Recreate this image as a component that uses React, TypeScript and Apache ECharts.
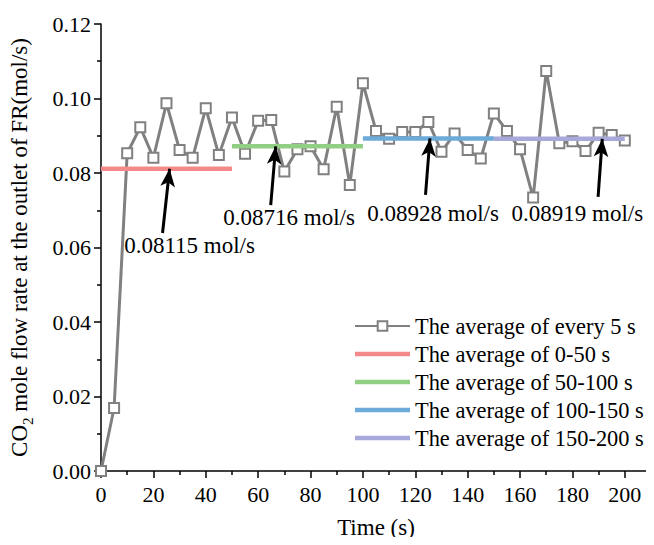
import React, { useEffect, useRef } from "react";
import * as echarts from "echarts";

const times = [0, 5, 10, 15, 20, 25, 30, 35, 40, 45, 50, 55, 60, 65, 70, 75, 80, 85, 90, 95, 100, 105, 110, 115, 120, 125, 130, 135, 140, 145, 150, 155, 160, 165, 170, 175, 180, 185, 190, 195, 200];
const every5s = [0, 0.0169, 0.0853, 0.0923, 0.0841, 0.0987, 0.0862, 0.0841, 0.0974, 0.0848, 0.0949, 0.0852, 0.094, 0.0942, 0.0804, 0.0864, 0.0872, 0.081, 0.0978, 0.0768, 0.1041, 0.0913, 0.0892, 0.091, 0.091, 0.0937, 0.0857, 0.0906, 0.0862, 0.0839, 0.096, 0.0913, 0.0864, 0.0734, 0.1074, 0.088, 0.0885, 0.0859, 0.0908, 0.0902, 0.0887];

const avgNames = ["The average of 0-50 s", "The average of 50-100 s", "The average of 100-150 s", "The average of 150-200 s"];
const avgStarts = [0, 50, 100, 150];
const avgEnds = [50, 100, 150, 200];
const avgValues = [0.08115, 0.08716, 0.08928, 0.08919];
const avgColors = ["#F4898A", "#91CF84", "#6BAAD9", "#A7A9DA"];

const annotationTexts = ["0.08115 mol/s", "0.08716 mol/s", "0.08928 mol/s", "0.08919 mol/s"];
const annotationPos = [[33.8, 0.0606], [71.8, 0.0680], [126.8, 0.0691], [181.9, 0.0691]];
const arrowTails = [[23.5, 0.0639], [64.8, 0.0714], [123.9, 0.0741], [189.8, 0.0736]];
const arrowTipsX = [26.2, 66.7, 125.6, 191.4];

const FONT = "Liberation Serif, Times New Roman, serif";

export default function App() {
  const ref = useRef<HTMLDivElement>(null);
  useEffect(() => {
    if (!ref.current) return;
    const chart = echarts.init(ref.current, undefined, { renderer: "svg" });
    const avgSeries = avgNames.map((name, i) => ({
      name,
      type: "line",
      data: [[avgStarts[i], avgValues[i]], [avgEnds[i], avgValues[i]]],
      symbol: "none",
      lineStyle: { color: avgColors[i], width: 4.5 },
      itemStyle: { color: avgColors[i] },
      z: 3,
    }));
    const option = {
      animation: false,
      textStyle: { fontFamily: FONT },
      grid: { left: 101, right: 0, top: 24, bottom: 74 },
      legend: {
        orient: "vertical",
        left: 349,
        top: 310,
        itemWidth: 55,
        itemHeight: 12,
        itemGap: 6,
        symbolKeepAspect: true,
        data: [
          { name: "The average of every 5 s" },
          ...avgNames.map((n) => ({ name: n, icon: "path://M0,0H55V4.5H0Z" })),
        ],
        textStyle: { fontFamily: FONT, fontSize: 22.4, color: "#000", lineHeight: 22 },
      },
      xAxis: {
        type: "value",
        min: 0,
        max: 210,
        interval: 20,
        name: "Time (s)",
        nameLocation: "middle",
        nameGap: 45,
        nameTextStyle: { fontFamily: FONT, fontSize: 23, color: "#000" },
        axisLine: { show: true, lineStyle: { color: "#000", width: 1.5 } },
        axisTick: { show: true, length: 7, lineStyle: { color: "#000", width: 1.5 } },
        minorTick: { show: true, splitNumber: 2, length: 4, lineStyle: { color: "#000", width: 1.5 } },
        splitLine: { show: false },
        axisLabel: {
          fontFamily: FONT,
          fontSize: 22,
          color: "#000",
          margin: 12,
          formatter: (v: number) => (v > 200 ? "" : String(v)),
        },
      },
      yAxis: {
        type: "value",
        min: 0,
        max: 0.12,
        interval: 0.02,
        name: "{a|CO}{s|2}{a| mole flow rate at the outlet of FR(mol/s)}",
        nameLocation: "middle",
        nameGap: 70,
        nameRotate: 90,
        nameTextStyle: {
          fontFamily: FONT,
          fontSize: 23,
          color: "#000",
          rich: {
            a: { fontFamily: FONT, fontSize: 23, color: "#000", lineHeight: 26, verticalAlign: "bottom" },
            s: { fontFamily: FONT, fontSize: 15, color: "#000", lineHeight: 15, verticalAlign: "bottom", padding: [0, 0, -4, 0] },
          },
        },
        axisLine: { show: true, lineStyle: { color: "#000", width: 1.5 } },
        axisTick: { show: true, length: 7, lineStyle: { color: "#000", width: 1.5 } },
        minorTick: { show: true, splitNumber: 2, length: 4, lineStyle: { color: "#000", width: 1.5 } },
        splitLine: { show: false },
        axisLabel: {
          fontFamily: FONT,
          fontSize: 22,
          color: "#000",
          margin: 10,
          formatter: (v: number) => v.toFixed(2),
        },
      },
      series: [
        {
          name: "The average of every 5 s",
          type: "line",
          data: times.map((t, i) => [t, every5s[i]]),
          symbol: "rect",
          symbolSize: 10,
          lineStyle: { color: "#808080", width: 3 },
          itemStyle: { color: "#fff", borderColor: "#808080", borderWidth: 2 },
          z: 2,
        },
        ...avgSeries,
        {
          name: "annotations",
          type: "line",
          data: [],
          symbol: "none",
          z: 5,
          markLine: {
            silent: true,
            symbol: ["none", "arrow"],
            symbolSize: [11, 18],
            lineStyle: { color: "#000", width: 3, type: "solid" },
            label: { show: false },
            data: arrowTails.map((tail, i) => [
              { coord: tail },
              { coord: [arrowTipsX[i], avgValues[i]] },
            ]),
          },
          markPoint: {
            silent: true,
            symbol: "rect",
            symbolSize: 0,
            label: {
              show: true,
              position: "inside",
              fontFamily: FONT,
              fontSize: 23,
              color: "#000",
              formatter: (p: any) => p.name,
            },
            data: annotationTexts.map((txt, i) => ({ name: txt, coord: annotationPos[i] })),
          },
        },
      ],
    };
    chart.setOption(option as any);
    return () => chart.dispose();
  }, []);
  return <div ref={ref} style={{ width: 654, height: 545, margin: -8 }} />;
}
